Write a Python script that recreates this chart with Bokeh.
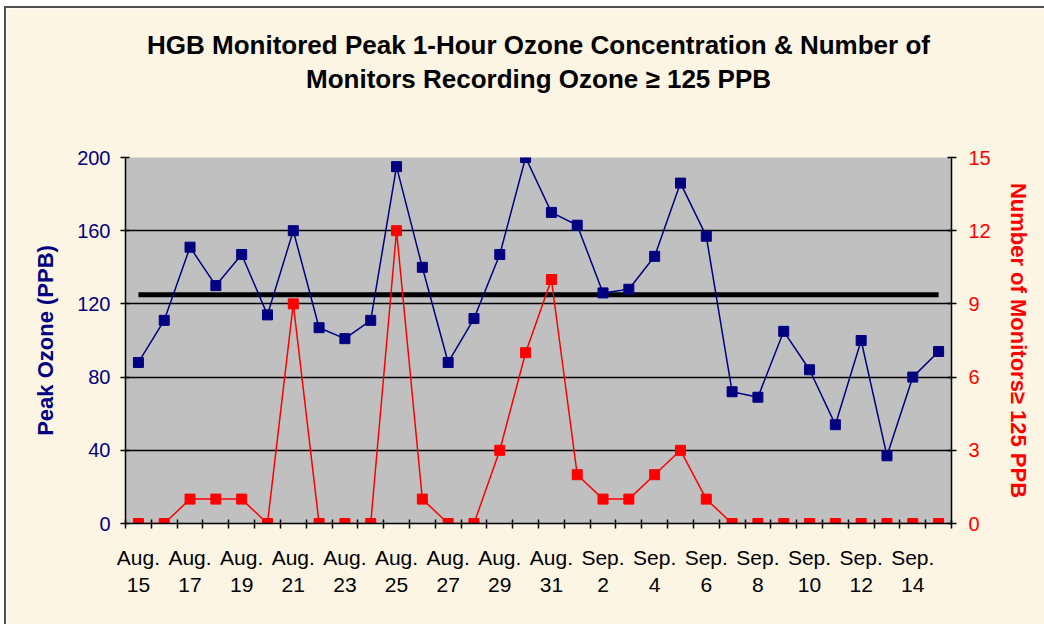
from bokeh.plotting import figure
from bokeh.models import Range1d, LinearAxis, FixedTicker, Title
from bokeh.embed import file_html
from bokeh.resources import INLINE

# ---- data ----
dates = ["Aug. 15", "Aug. 16", "Aug. 17", "Aug. 18", "Aug. 19", "Aug. 20", "Aug. 21",
         "Aug. 22", "Aug. 23", "Aug. 24", "Aug. 25", "Aug. 26", "Aug. 27", "Aug. 28",
         "Aug. 29", "Aug. 30", "Aug. 31", "Sep. 1", "Sep. 2", "Sep. 3", "Sep. 4",
         "Sep. 5", "Sep. 6", "Sep. 7", "Sep. 8", "Sep. 9", "Sep. 10", "Sep. 11",
         "Sep. 12", "Sep. 13", "Sep. 14", "Sep. 15"]
peak_ozone = [88, 111, 151, 130, 147, 114, 160, 107, 101, 111, 195, 140, 88, 112, 147, 200,
              170, 163, 126, 128, 146, 186, 157, 72, 69, 105, 84, 54, 100, 37, 80, 94]
monitors = [0, 0, 1, 1, 1, 0, 9, 0, 0, 0, 12, 1, 0, 0, 3, 7,
            10, 2, 1, 1, 2, 3, 1, 0, 0, 0, 0, 0, 0, 0, 0, 0]
threshold = 125
left_ticks = [0, 40, 80, 120, 160, 200]
right_ticks = [0, 3, 6, 9, 12, 15]
title_lines = ["HGB Monitored Peak 1-Hour Ozone Concentration & Number of",
               "Monitors Recording Ozone \u2265 125 PPB"]

FONT = "Liberation Sans"
NAVY = "#000080"
RED = "#FF0000"
CREAM = "#FDF5E4"

n = len(dates)
x = list(range(n))
label_idx = list(range(0, n, 2))
overrides = {i: dates[i].replace(" ", "\n") for i in label_idx}

p = figure(width=1038, height=616, frame_width=826, frame_height=366,
           x_range=Range1d(-0.5, n - 0.5), y_range=Range1d(left_ticks[0], left_ticks[-1]),
           output_backend="svg", toolbar_location=None,
           min_border_left=119, min_border_right=93, min_border_top=149, min_border_bottom=101)
p.styles = {"margin-left": "4px", "margin-top": "6px",
            "border-left": "2px solid #505050", "border-top": "2px solid #505050"}
p.background_fill_color = "#C0C0C0"
p.border_fill_color = CREAM
p.outline_line_color = None

# title: two centred lines; a blank spacer (added first) sits next to the frame
def style_title(t, standoff):
    t.align = "center"
    t.text_font = FONT
    t.text_font_size = "26px"
    t.text_font_style = "bold"
    t.text_color = "black"
    t.standoff = standoff

p.title.text = title_lines[0]
style_title(p.title, 2)
spacer = Title(text=" ")
style_title(spacer, 31)
p.add_layout(spacer, "above")
t2 = Title(text=title_lines[1])
style_title(t2, 2)
p.add_layout(t2, "above")

p.extra_y_ranges = {"right": Range1d(right_ticks[0], right_ticks[-1])}

# x axis
xa = p.xaxis[0]
xa.ticker = FixedTicker(ticks=label_idx, minor_ticks=[i - 0.5 for i in range(n + 1)])
xa.major_label_overrides = overrides
xa.major_tick_in = 0
xa.major_tick_out = 0
xa.minor_tick_in = 4
xa.minor_tick_out = 5
xa.minor_tick_line_color = "black"
xa.minor_tick_line_width = 1.5
xa.axis_line_color = "black"
xa.axis_line_width = 1.5
xa.major_label_standoff = 17
xa.major_label_text_font = FONT
xa.major_label_text_font_size = "21px"
xa.major_label_text_color = "black"
xa.major_label_text_line_height = 1.2

# left axis
ya = p.yaxis[0]
ya.ticker = FixedTicker(ticks=left_ticks)
ya.minor_tick_line_color = None
ya.major_tick_in = 4
ya.major_tick_out = 5
ya.major_tick_line_color = "black"
ya.major_tick_line_width = 1.5
ya.axis_line_color = "black"
ya.axis_line_width = 1.5
ya.major_label_standoff = 10
ya.major_label_text_font = FONT
ya.major_label_text_font_size = "20px"
ya.major_label_text_color = NAVY
ya.axis_label = "Peak Ozone (PPB)"
ya.axis_label_text_font = FONT
ya.axis_label_text_font_size = "22px"
ya.axis_label_text_font_style = "bold"
ya.axis_label_text_color = NAVY
ya.axis_label_standoff = 16

# right axis
ra = LinearAxis(y_range_name="right", ticker=FixedTicker(ticks=right_ticks))
ra.minor_tick_line_color = None
ra.major_tick_in = 4
ra.major_tick_out = 5
ra.major_tick_line_color = "black"
ra.major_tick_line_width = 1.5
ra.axis_line_color = "black"
ra.axis_line_width = 1.5
ra.major_label_standoff = 12
ra.major_label_text_font = FONT
ra.major_label_text_font_size = "20px"
ra.major_label_text_color = RED
ra.axis_label = "Number of Monitors\u2265 125 PPB"
ra.axis_label_text_font = FONT
ra.axis_label_text_font_size = "22px"
ra.axis_label_text_font_style = "bold"
ra.axis_label_text_color = RED
ra.axis_label_standoff = 12
p.add_layout(ra, "right")

# grid
p.xgrid.visible = False
p.ygrid.ticker = FixedTicker(ticks=left_ticks[1:-1])
p.ygrid.grid_line_color = "black"
p.ygrid.grid_line_width = 1.5
p.ygrid.grid_line_alpha = 1.0

# threshold line
p.line([x[0], x[-1]], [threshold, threshold], line_color="black", line_width=5)

# ozone series
p.line(x, peak_ozone, line_color=NAVY, line_width=1.5)
p.scatter(x, peak_ozone, marker="square", size=10, fill_color=NAVY, line_color=NAVY)

# monitors series
p.line(x, monitors, line_color=RED, line_width=1.5, y_range_name="right")
p.scatter(x, monitors, marker="square", size=10, fill_color=RED, line_color=RED,
          y_range_name="right")

open("out.html", "w").write(file_html(p, INLINE))
